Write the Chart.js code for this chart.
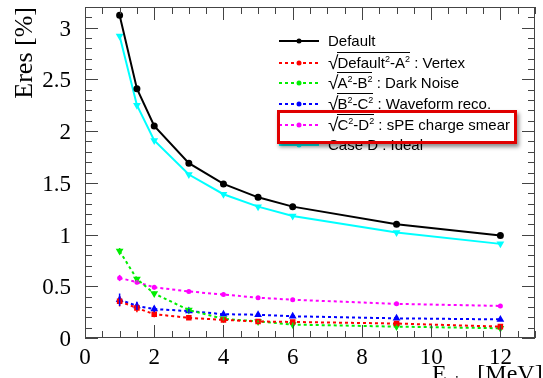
<!DOCTYPE html>
<html><head><meta charset="utf-8">
<script src="https://cdn.jsdelivr.net/npm/chart.js@4/dist/chart.umd.min.js"></script>
<style>
html,body{margin:0;padding:0;background:#fff;overflow:hidden}
#wrap{position:relative;width:543px;height:378px;overflow:hidden}
#legend{position:absolute;left:0;top:0;font-family:"Liberation Sans",Arial,sans-serif;font-size:15px;color:#000}
.row{position:absolute;left:278px;height:20px;white-space:nowrap}
.row canvas{position:absolute;left:0;top:0}
.row span.t{position:absolute;left:50px;top:1px}
.sq{font-size:19px;line-height:0;position:relative;top:1px;margin-right:-1px}
.rad{border-top:1px solid #000;padding-top:1px}
sup{font-size:9px;vertical-align:6px;line-height:0}
#hl{position:absolute;left:277px;top:110px;width:234px;height:28px;border:3px solid #e00000;box-shadow:2px 3px 4px rgba(0,0,0,0.45)}
#xt{position:absolute;left:432px;top:360px;font-family:"Liberation Serif","Times New Roman",serif;font-size:24px;white-space:nowrap}
#xt sub{font-size:16px;margin-right:6px}
</style></head>
<body><div id="wrap">
<canvas id="c" width="543" height="378"></canvas>
<div id="legend"></div>
<div id="xt">E<sub>vis</sub> [MeV]</div>
</div>
<script>
const energies = [1, 1.5, 2, 3, 4, 5, 6, 9, 12];
const defaultRes = [3.12, 2.41, 2.05, 1.69, 1.49, 1.36, 1.27, 1.10, 0.99];
const vertexRes = [0.355, 0.29, 0.23, 0.195, 0.175, 0.16, 0.155, 0.14, 0.11];
const darkNoiseRes = [0.84, 0.57, 0.43, 0.27, 0.185, 0.16, 0.13, 0.11, 0.094];
const waveformRes = [0.37, 0.31, 0.28, 0.26, 0.23, 0.225, 0.21, 0.19, 0.18];
const speSmearRes = [0.58, 0.54, 0.49, 0.45, 0.42, 0.39, 0.37, 0.33, 0.31];
const caseDRes = [2.92, 2.25, 1.91, 1.58, 1.39, 1.27, 1.18, 1.02, 0.91];
const vertexErr = [0.05, 0.04, 0.03, 0.02, 0.015, 0.01, 0.01, 0.01, 0.01];
const darkNoiseErr = [0.03, 0.02, 0.02, 0.015, 0.015, 0.01, 0.02, 0.02, 0.01];
const waveformErr = [0.06, 0.04, 0.03, 0.02, 0.015, 0.01, 0.01, 0.01, 0.01];
const speSmearErr = [0.03, 0.02, 0.02, 0.01, 0.01, 0.01, 0.01, 0.01, 0.01];
const yTickLabels = ["0", "0.5", "1", "1.5", "2", "2.5", "3"];
const xTickLabels = ["0", "2", "4", "6", "8", "10", "12"];

const seriesNames = ["Default", "Vertex", "Dark Noise", "Waveform reco.", "sPE charge smear", "Case D : Ideal"];

function pts(ys){ return energies.map((x,i)=>({x:x,y:ys[i]})); }

const errMap = {1: vertexErr, 2: darkNoiseErr, 3: waveformErr, 4: speSmearErr};

const frameTicks = {
  id: 'frameTicks',
  afterDatasetsDraw(chart){
    const {ctx, chartArea:a, scales:{x, y}} = chart;
    ctx.save();
    chart.data.datasets.forEach((ds, di)=>{
      const e = errMap[di]; if(!e) return;
      ctx.strokeStyle = ds.borderColor; ctx.lineWidth = 1.5; ctx.setLineDash([]);
      ds.data.forEach((p,i)=>{
        const px = x.getPixelForValue(p.x);
        ctx.beginPath();
        ctx.moveTo(px, y.getPixelForValue(p.y - e[i]));
        ctx.lineTo(px, y.getPixelForValue(p.y + e[i]));
        ctx.stroke();
      });
    });
    ctx.strokeStyle = '#444'; ctx.lineWidth = 1;
    ctx.strokeRect(a.left+0.5, a.top+0.5, a.right-a.left-1, a.bottom-a.top-1);
    ctx.beginPath();
    for(let k=0;k<=26;k++){
      const v = k*0.5; if(v> x.max) break;
      const px = Math.round(x.getPixelForValue(v))+0.5;
      const len = (k%4===0)?13:7;
      ctx.moveTo(px,a.bottom); ctx.lineTo(px,a.bottom-len);
      ctx.moveTo(px,a.top); ctx.lineTo(px,a.top+len);
    }
    for(let k=0;k<=32;k++){
      const v = k*0.1; if(v> y.max+1e-9) break;
      const py = Math.round(y.getPixelForValue(v))+0.5;
      const len = (k%5===0)?13:7;
      ctx.moveTo(a.left,py); ctx.lineTo(a.left+len,py);
      ctx.moveTo(a.right,py); ctx.lineTo(a.right-len,py);
    }
    ctx.stroke();
    ctx.restore();
  }
};

const serif = '"Liberation Serif", "Times New Roman", serif';
const chart = new Chart(document.getElementById('c'), {
  type: 'line',
  data: { datasets: [
    {label: seriesNames[0], data: pts(defaultRes), borderColor:'#000', backgroundColor:'#000', borderWidth:2, pointRadius:2.5, pointStyle:'circle'},
    {label: seriesNames[1], data: pts(vertexRes), borderColor:'#ff0000', backgroundColor:'#ff0000', borderWidth:2, borderDash:[3,3], pointRadius:2.5, pointStyle:'rect'},
    {label: seriesNames[2], data: pts(darkNoiseRes), borderColor:'#00ee00', backgroundColor:'#00ee00', borderWidth:2, borderDash:[3,3], pointRadius:2.5, pointStyle:'triangle', rotation:180},
    {label: seriesNames[3], data: pts(waveformRes), borderColor:'#0000ff', backgroundColor:'#0000ff', borderWidth:2, borderDash:[3,3], pointRadius:2.5, pointStyle:'triangle'},
    {label: seriesNames[4], data: pts(speSmearRes), borderColor:'#ff00ff', backgroundColor:'#ff00ff', borderWidth:2, borderDash:[3,3], pointRadius:1.5, pointStyle:'circle'},
    {label: seriesNames[5], data: pts(caseDRes), borderColor:'#00ffff', backgroundColor:'#00ffff', borderWidth:2, pointRadius:2.5, pointStyle:'triangle', rotation:180}
  ]},
  options: {
    responsive:false, animation:false,
    layout:{padding:{top:7, right:8, left:0, bottom:0}},
    plugins:{legend:{display:false}, tooltip:{enabled:false}},
    scales:{
      x:{type:'linear', min:0, max:13,
        grid:{display:false}, border:{display:false},
        ticks:{stepSize:2, includeBounds:false, padding:-2, color:'#000', maxRotation:0,
          font:{family:serif, size:23},
          callback:(v)=>{const i=xTickLabels.indexOf(String(v)); return i>=0?xTickLabels[i]:'';}},
        afterFit:(s)=>{s.height=40; s.paddingLeft=0; s.paddingRight=0;}
      },
      y:{type:'linear', min:0, max:3.2,
        grid:{display:false}, border:{display:false},
        ticks:{stepSize:0.5, includeBounds:false, padding:6, labelOffset:2, color:'#000',
          font:{family:serif, size:23},
          callback:(v)=>{const i=yTickLabels.indexOf(String(v)); return i>=0?yTickLabels[i]:'';}},
        title:{display:true, text:'Eres [%]', align:'end', color:'#000', padding:{top:10,bottom:0},
          font:{family:serif, size:26}},
        afterFit:(s)=>{s.width=85; s.paddingTop=0; s.paddingBottom=0;}
      }
    }
  },
  plugins:[frameTicks]
});

const legendTexts = [
  'Default',
  '<span class="sq">√</span><span class="rad">Default<sup>2</sup>-A<sup>2</sup></span> : Vertex',
  '<span class="sq">√</span><span class="rad">A<sup>2</sup>-B<sup>2</sup></span> : Dark Noise',
  '<span class="sq">√</span><span class="rad">B<sup>2</sup>-C<sup>2</sup></span> : Waveform reco.',
  '<span class="sq">√</span><span class="rad">C<sup>2</sup>-D<sup>2</sup></span> : sPE charge smear',
  'Case D : Ideal'
];
const rowTops = [31, 53, 73, 94, 115, 135];
const leg = document.getElementById('legend');
chart.data.datasets.forEach((ds,i)=>{
  const r = document.createElement('div'); r.className='row'; r.style.top = rowTops[i]+'px';
  const cv = document.createElement('canvas'); cv.width=44; cv.height=20;
  const g = cv.getContext('2d');
  g.strokeStyle = ds.borderColor; g.lineWidth = 2; g.setLineDash(ds.borderDash||[]);
  g.beginPath(); g.moveTo(1,10); g.lineTo(41,10); g.stroke();
  g.fillStyle = ds.backgroundColor; g.beginPath(); g.arc(21,10,2.5,0,Math.PI*2); g.fill();
  r.appendChild(cv);
  const t = document.createElement('span'); t.className='t'; t.innerHTML = legendTexts[i];
  r.appendChild(t);
  leg.appendChild(r);
});
const hl = document.createElement('div'); hl.id='hl'; leg.appendChild(hl);
</script>
</body></html>
